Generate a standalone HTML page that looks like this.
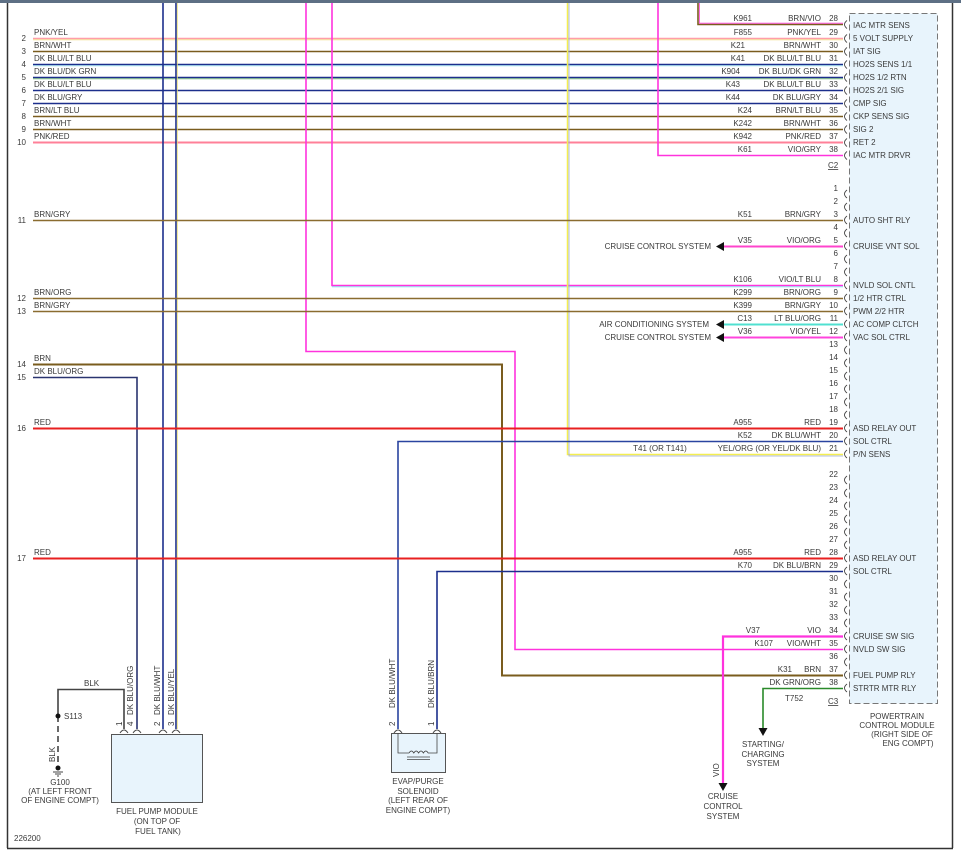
<!DOCTYPE html>
<html><head><meta charset="utf-8">
<style>
html,body{margin:0;padding:0;background:#fff;}
svg{display:block;}
text{font-family:"Liberation Sans",Arial,sans-serif;font-size:8px;fill:#3a3a3a;}
.e{text-anchor:end;}
.m{text-anchor:middle;}
</style></head><body>
<svg width="961" height="855" viewBox="0 0 961 855" xmlns="http://www.w3.org/2000/svg">
<rect x="0" y="0" width="961" height="3" fill="#5d6f84"/>
<line x1="7.5" y1="3" x2="7.5" y2="848" stroke="#333" stroke-width="1.5"/>
<line x1="952.5" y1="3" x2="952.5" y2="848" stroke="#333" stroke-width="1.5"/>
<line x1="7" y1="848.5" x2="953" y2="848.5" stroke="#333" stroke-width="1.5"/>

<rect x="849.5" y="13.5" width="88" height="690" fill="#e8f4fc" stroke="#777" stroke-dasharray="6,3"/>

<g fill="none" stroke-width="1.6">
<line x1="33" y1="38.5" x2="843" y2="38.5" stroke="#ff9ea8"/>
<line x1="33" y1="39.8" x2="843" y2="39.8" stroke="#f4e08a" stroke-width="0.8"/>
<line x1="33" y1="51.5" x2="843" y2="51.5" stroke="#7a5c1e"/>
<line x1="33" y1="64.5" x2="843" y2="64.5" stroke="#1c2f8c"/>
<line x1="33" y1="65.8" x2="843" y2="65.8" stroke="#9ee6f0" stroke-width="0.8"/>
<line x1="33" y1="77.5" x2="843" y2="77.5" stroke="#1c2f8c"/>
<line x1="33" y1="78.8" x2="843" y2="78.8" stroke="#7ac07a" stroke-width="0.8"/>
<line x1="33" y1="90.5" x2="843" y2="90.5" stroke="#1c2f8c"/>
<line x1="33" y1="103.5" x2="843" y2="103.5" stroke="#1c2f8c"/>
<line x1="33" y1="116.5" x2="843" y2="116.5" stroke="#7a5c1e"/>
<line x1="33" y1="129.5" x2="843" y2="129.5" stroke="#7a5c1e"/>
<line x1="33" y1="142.5" x2="843" y2="142.5" stroke="#ff8098" stroke-width="2"/>
<polyline points="698,3 698,24.5 843,24.5" stroke="#7a5c1e"/>
<polyline points="699.5,3 699.5,23.2 843,23.2" stroke="#ff44dd" stroke-width="0.8"/>
<polyline points="658,3 658,155.5 843,155.5" stroke="#ff33dd"/>
<line x1="163" y1="3" x2="163" y2="729" stroke="#1c2f8c"/>
<line x1="176" y1="3" x2="176" y2="729" stroke="#1c2f8c"/>
<line x1="177.3" y1="3" x2="177.3" y2="729" stroke="#eee070" stroke-width="0.8"/>
<polyline points="306,3 306,351.5 515,351.5 515,649.5 843,649.5" stroke="#ff33dd"/>
<polyline points="332,3 332,285.5 843,285.5" stroke="#ff33dd"/>
<line x1="332" y1="286.8" x2="843" y2="286.8" stroke="#80e0f0" stroke-width="0.8"/>
<polyline points="567.5,3 567.5,454.5 843,454.5" stroke="#f4ee50" stroke-width="1.5"/>
<polyline points="569,3 569,456 843,456" stroke="#9aaad8" stroke-width="0.8"/>
<line x1="33" y1="220.5" x2="843" y2="220.5" stroke="#8a6c30"/>
<line x1="720" y1="246.5" x2="843" y2="246.5" stroke="#ff44cc" stroke-width="2"/>
<line x1="33" y1="298.5" x2="843" y2="298.5" stroke="#8a6c30"/>
<line x1="33" y1="311.5" x2="843" y2="311.5" stroke="#8a6c30"/>
<line x1="720" y1="324.5" x2="843" y2="324.5" stroke="#50e0d0" stroke-width="2"/>
<line x1="720" y1="337.5" x2="843" y2="337.5" stroke="#ff44dd" stroke-width="2"/>
<polyline points="33,364.5 502,364.5 502,675.5 843,675.5" stroke="#7a5c1e" stroke-width="2"/>
<polyline points="33,377.5 137,377.5 137,729" stroke="#2a3470"/>
<line x1="33" y1="428.5" x2="843" y2="428.5" stroke="#e82020" stroke-width="2"/>
<polyline points="398,729 398,441.5 843,441.5" stroke="#2a44a0"/>
<line x1="33" y1="558.5" x2="843" y2="558.5" stroke="#e82020" stroke-width="2"/>
<polyline points="437,729 437,571.5 843,571.5" stroke="#1c2f8c"/>
<polyline points="723,784 723,636.5 843,636.5" stroke="#ff33dd" stroke-width="2.2"/>
<polyline points="763,729 763,688.5 843,688.5" stroke="#2a8a2a"/>
<polyline points="124,729 124,689.5 58,689.5 58,716" stroke="#444"/>
<line x1="58" y1="716" x2="58" y2="768" stroke="#444" stroke-dasharray="6,4"/>
</g>

<g fill="#111">
<polygon points="716,246.5 724,242 724,251"/>
<polygon points="716,324.5 724,320 724,329"/>
<polygon points="716,337.5 724,333 724,342"/>
<polygon points="723,791 718.5,783 727.5,783"/>
<polygon points="763,736 758.5,728 767.5,728"/>
<circle cx="58" cy="716" r="2.5"/>
<circle cx="58" cy="768" r="2.5"/>
</g>
<g stroke="#444" stroke-width="1">
<line x1="53" y1="772" x2="63" y2="772"/><line x1="55" y1="774" x2="61" y2="774"/><line x1="57" y1="776" x2="59" y2="776"/>
</g>

<g fill="none" stroke="#444" stroke-width="0.9">
<path d="M847 20.5Q842 24.5 847 28.5M847 34.5Q842 38.5 847 42.5M847 47.5Q842 51.5 847 55.5M847 60.5Q842 64.5 847 68.5M847 73.5Q842 77.5 847 81.5M847 86.5Q842 90.5 847 94.5M847 99.5Q842 103.5 847 107.5M847 112.5Q842 116.5 847 120.5M847 125.5Q842 129.5 847 133.5M847 138.5Q842 142.5 847 146.5M847 151.5Q842 155.5 847 159.5"/>
<path d="M847 190Q842 194 847 198M847 203Q842 207 847 211M847 216Q842 220 847 224M847 229Q842 233 847 237M847 242Q842 246 847 250M847 255Q842 259 847 263M847 268Q842 272 847 276M847 281Q842 285 847 289M847 294Q842 298 847 302M847 307Q842 311 847 315M847 320Q842 324 847 328M847 333Q842 337 847 341M847 346Q842 350 847 354M847 359Q842 363 847 367M847 372Q842 376 847 380M847 385Q842 389 847 393M847 398Q842 402 847 406M847 411Q842 415 847 419M847 424Q842 428 847 432M847 437Q842 441 847 445M847 450Q842 454 847 458"/>
<path d="M847 476Q842 480 847 484M847 489Q842 493 847 497M847 502Q842 506 847 510M847 515Q842 519 847 523M847 528Q842 532 847 536M847 541Q842 545 847 549M847 554Q842 558 847 562M847 567Q842 571 847 575M847 580Q842 584 847 588M847 593Q842 597 847 601M847 606Q842 610 847 614M847 619Q842 623 847 627M847 632Q842 636 847 640M847 645Q842 649 847 653M847 658Q842 662 847 666M847 671Q842 675 847 679M847 684Q842 688 847 692"/>
<path d="M120 733Q124 727 128 733M133 733Q137 727 141 733M159 733Q163 727 167 733M172 733Q176 727 180 733M394 733Q398 727 402 733M433 733Q437 727 441 733"/>
</g>

<rect x="111.5" y="734.5" width="91" height="68" fill="#e8f4fc" stroke="#555"/>
<rect x="391.5" y="733.5" width="54" height="39" fill="#e8f4fc" stroke="#555"/>
<g fill="none" stroke="#444" stroke-width="0.8">
<polyline points="398,733 398,753 409,753"/>
<polyline points="437,733 437,753 428,753"/>
<path d="M409 753q2.4-4 4.8 0q2.4-4 4.8 0q2.4-4 4.8 0q2.4-4 4.8 0"/>
<line x1="407" y1="757" x2="430" y2="757"/><line x1="407" y1="759.5" x2="430" y2="759.5"/>
</g>

<g>
<text x="34" y="35">PNK/YEL</text><text class="e" x="26" y="41">2</text>
<text x="34" y="48">BRN/WHT</text><text class="e" x="26" y="54">3</text>
<text x="34" y="61">DK BLU/LT BLU</text><text class="e" x="26" y="67">4</text>
<text x="34" y="74">DK BLU/DK GRN</text><text class="e" x="26" y="80">5</text>
<text x="34" y="87">DK BLU/LT BLU</text><text class="e" x="26" y="93">6</text>
<text x="34" y="100">DK BLU/GRY</text><text class="e" x="26" y="106">7</text>
<text x="34" y="113">BRN/LT BLU</text><text class="e" x="26" y="119">8</text>
<text x="34" y="126">BRN/WHT</text><text class="e" x="26" y="132">9</text>
<text x="34" y="139">PNK/RED</text><text class="e" x="26" y="145">10</text>
<text x="34" y="217">BRN/GRY</text><text class="e" x="26" y="223">11</text>
<text x="34" y="295">BRN/ORG</text><text class="e" x="26" y="301">12</text>
<text x="34" y="308">BRN/GRY</text><text class="e" x="26" y="314">13</text>
<text x="34" y="361">BRN</text><text class="e" x="26" y="367">14</text>
<text x="34" y="374">DK BLU/ORG</text><text class="e" x="26" y="380">15</text>
<text x="34" y="425">RED</text><text class="e" x="26" y="431">16</text>
<text x="34" y="555">RED</text><text class="e" x="26" y="561">17</text>
</g>

<g>
<text class="e" x="752" y="21">K961</text><text class="e" x="821" y="21">BRN/VIO</text><text class="e" x="838" y="21">28</text>
<text class="e" x="752" y="35">F855</text><text class="e" x="821" y="35">PNK/YEL</text><text class="e" x="838" y="35">29</text>
<text class="e" x="745" y="48">K21</text><text class="e" x="821" y="48">BRN/WHT</text><text class="e" x="838" y="48">30</text>
<text class="e" x="745" y="61">K41</text><text class="e" x="821" y="61">DK BLU/LT BLU</text><text class="e" x="838" y="61">31</text>
<text class="e" x="740" y="74">K904</text><text class="e" x="821" y="74">DK BLU/DK GRN</text><text class="e" x="838" y="74">32</text>
<text class="e" x="740" y="87">K43</text><text class="e" x="821" y="87">DK BLU/LT BLU</text><text class="e" x="838" y="87">33</text>
<text class="e" x="740" y="100">K44</text><text class="e" x="821" y="100">DK BLU/GRY</text><text class="e" x="838" y="100">34</text>
<text class="e" x="752" y="113">K24</text><text class="e" x="821" y="113">BRN/LT BLU</text><text class="e" x="838" y="113">35</text>
<text class="e" x="752" y="126">K242</text><text class="e" x="821" y="126">BRN/WHT</text><text class="e" x="838" y="126">36</text>
<text class="e" x="752" y="139">K942</text><text class="e" x="821" y="139">PNK/RED</text><text class="e" x="838" y="139">37</text>
<text class="e" x="752" y="152">K61</text><text class="e" x="821" y="152">VIO/GRY</text><text class="e" x="838" y="152">38</text>
<text x="828" y="168" text-decoration="underline">C2</text>
</g>

<g>
<text class="e" x="838" y="191">1</text>
<text class="e" x="838" y="204">2</text>
<text class="e" x="752" y="217">K51</text><text class="e" x="821" y="217">BRN/GRY</text><text class="e" x="838" y="217">3</text>
<text class="e" x="838" y="230">4</text>
<text class="e" x="752" y="243">V35</text><text class="e" x="821" y="243">VIO/ORG</text><text class="e" x="838" y="243">5</text>
<text class="e" x="711" y="249">CRUISE CONTROL SYSTEM</text>
<text class="e" x="838" y="256">6</text>
<text class="e" x="838" y="269">7</text>
<text class="e" x="752" y="282">K106</text><text class="e" x="821" y="282">VIO/LT BLU</text><text class="e" x="838" y="282">8</text>
<text class="e" x="752" y="295">K299</text><text class="e" x="821" y="295">BRN/ORG</text><text class="e" x="838" y="295">9</text>
<text class="e" x="752" y="308">K399</text><text class="e" x="821" y="308">BRN/GRY</text><text class="e" x="838" y="308">10</text>
<text class="e" x="752" y="321">C13</text><text class="e" x="821" y="321">LT BLU/ORG</text><text class="e" x="838" y="321">11</text>
<text class="e" x="709" y="327">AIR CONDITIONING SYSTEM</text>
<text class="e" x="752" y="334">V36</text><text class="e" x="821" y="334">VIO/YEL</text><text class="e" x="838" y="334">12</text>
<text class="e" x="711" y="340">CRUISE CONTROL SYSTEM</text>
<text class="e" x="838" y="347">13</text>
<text class="e" x="838" y="360">14</text>
<text class="e" x="838" y="373">15</text>
<text class="e" x="838" y="386">16</text>
<text class="e" x="838" y="399">17</text>
<text class="e" x="838" y="412">18</text>
<text class="e" x="752" y="425">A955</text><text class="e" x="821" y="425">RED</text><text class="e" x="838" y="425">19</text>
<text class="e" x="752" y="438">K52</text><text class="e" x="821" y="438">DK BLU/WHT</text><text class="e" x="838" y="438">20</text>
<text class="m" x="660" y="451">T41 (OR T141)</text><text class="e" x="821" y="451">YEL/ORG (OR YEL/DK BLU)</text><text class="e" x="838" y="451">21</text>
<text class="e" x="838" y="477">22</text>
<text class="e" x="838" y="490">23</text>
<text class="e" x="838" y="503">24</text>
<text class="e" x="838" y="516">25</text>
<text class="e" x="838" y="529">26</text>
<text class="e" x="838" y="542">27</text>
<text class="e" x="752" y="555">A955</text><text class="e" x="821" y="555">RED</text><text class="e" x="838" y="555">28</text>
<text class="e" x="752" y="568">K70</text><text class="e" x="821" y="568">DK BLU/BRN</text><text class="e" x="838" y="568">29</text>
<text class="e" x="838" y="581">30</text>
<text class="e" x="838" y="594">31</text>
<text class="e" x="838" y="607">32</text>
<text class="e" x="838" y="620">33</text>
<text class="e" x="760" y="633">V37</text><text class="e" x="821" y="633">VIO</text><text class="e" x="838" y="633">34</text>
<text class="e" x="773" y="646">K107</text><text class="e" x="821" y="646">VIO/WHT</text><text class="e" x="838" y="646">35</text>
<text class="e" x="838" y="659">36</text>
<text class="e" x="792" y="672">K31</text><text class="e" x="821" y="672">BRN</text><text class="e" x="838" y="672">37</text>
<text class="e" x="821" y="685">DK GRN/ORG</text><text class="e" x="838" y="685">38</text>
<text x="785" y="701">T752</text>
<text x="828" y="704" text-decoration="underline">C3</text>
</g>

<g>
<text x="853" y="28">IAC MTR SENS</text>
<text x="853" y="41">5 VOLT SUPPLY</text>
<text x="853" y="54">IAT SIG</text>
<text x="853" y="67">HO2S SENS 1/1</text>
<text x="853" y="80">HO2S 1/2 RTN</text>
<text x="853" y="93">HO2S 2/1 SIG</text>
<text x="853" y="106">CMP SIG</text>
<text x="853" y="119">CKP SENS SIG</text>
<text x="853" y="132">SIG 2</text>
<text x="853" y="145">RET 2</text>
<text x="853" y="158">IAC MTR DRVR</text>
<text x="853" y="223">AUTO SHT RLY</text>
<text x="853" y="249">CRUISE VNT SOL</text>
<text x="853" y="288">NVLD SOL CNTL</text>
<text x="853" y="301">1/2 HTR CTRL</text>
<text x="853" y="314">PWM 2/2 HTR</text>
<text x="853" y="327">AC COMP CLTCH</text>
<text x="853" y="340">VAC SOL CTRL</text>
<text x="853" y="431">ASD RELAY OUT</text>
<text x="853" y="444">SOL CTRL</text>
<text x="853" y="457">P/N SENS</text>
<text x="853" y="561">ASD RELAY OUT</text>
<text x="853" y="574">SOL CTRL</text>
<text x="853" y="639">CRUISE SW SIG</text>
<text x="853" y="652">NVLD SW SIG</text>
<text x="853" y="678">FUEL PUMP RLY</text>
<text x="853" y="691">STRTR MTR RLY</text>
<text class="m" x="897" y="719">POWERTRAIN</text>
<text class="m" x="897" y="728">CONTROL MODULE</text>
<text class="m" x="902" y="737">(RIGHT SIDE OF</text>
<text class="m" x="908" y="746">ENG COMPT)</text>
</g>

<g>
<text class="m" x="763" y="747">STARTING/</text>
<text class="m" x="763" y="757">CHARGING</text>
<text class="m" x="763" y="766">SYSTEM</text>
<text class="m" x="723" y="799">CRUISE</text>
<text class="m" x="723" y="809">CONTROL</text>
<text class="m" x="723" y="819">SYSTEM</text>
<text transform="translate(719,777) rotate(-90)">VIO</text>

<text x="84" y="686">BLK</text>
<text x="64" y="719">S113</text>
<text transform="translate(55,762) rotate(-90)">BLK</text>
<text class="m" x="60" y="785">G100</text>
<text class="m" x="60" y="794">(AT LEFT FRONT</text>
<text class="m" x="60" y="803">OF ENGINE COMPT)</text>

<text transform="translate(133,715) rotate(-90)">DK BLU/ORG</text>
<text transform="translate(160,715) rotate(-90)">DK BLU/WHT</text>
<text transform="translate(174,715) rotate(-90)">DK BLU/YEL</text>
<text transform="translate(122,726) rotate(-90)">1</text>
<text transform="translate(133,726) rotate(-90)">4</text>
<text transform="translate(160,726) rotate(-90)">2</text>
<text transform="translate(174,726) rotate(-90)">3</text>
<text class="m" x="157" y="814">FUEL PUMP MODULE</text>
<text class="m" x="157" y="824">(ON TOP OF</text>
<text class="m" x="158" y="834">FUEL TANK)</text>

<text transform="translate(395,708) rotate(-90)">DK BLU/WHT</text>
<text transform="translate(434,708) rotate(-90)">DK BLU/BRN</text>
<text transform="translate(395,726) rotate(-90)">2</text>
<text transform="translate(434,726) rotate(-90)">1</text>
<text class="m" x="418" y="784">EVAP/PURGE</text>
<text class="m" x="418" y="794">SOLENOID</text>
<text class="m" x="418" y="803">(LEFT REAR OF</text>
<text class="m" x="418" y="813">ENGINE COMPT)</text>

<text x="14" y="841">226200</text>
</g>
</svg>
</body></html>
